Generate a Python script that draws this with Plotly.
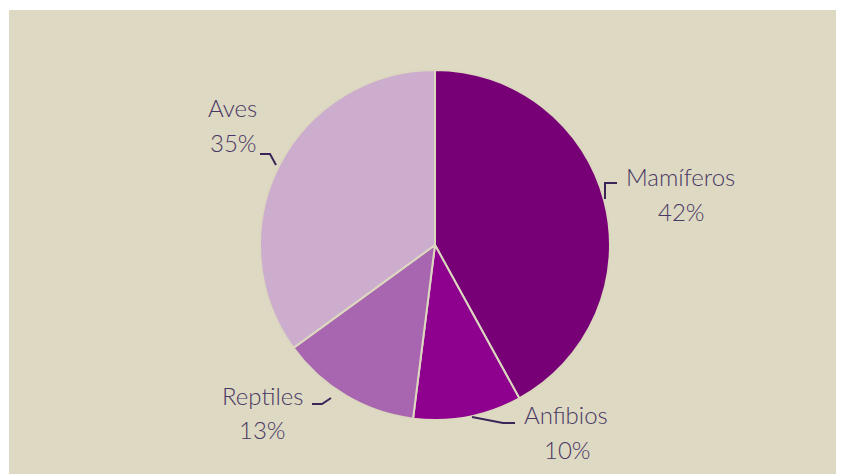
import plotly.graph_objects as go

categories = ["Mamíferos", "Anfibios", "Reptiles", "Aves"]
values = [42, 10, 13, 35]
colors = ["#770077", "#8E008E", "#A966B0", "#CDADCD"]

W, H = 846, 474
OFF = 8  # page body margin offset
bg = "#DDD9C3"
txt = "#4A3864"
font_family = "'Lato Light', 'Open Sans Light', Lato, 'Noto Sans', sans-serif"

# label layout (pixels) : name line, percent line
label_pos = {
    "Mamíferos": ((680, 176), (681, 211)),
    "Anfibios": ((566, 414), (567, 449)),
    "Reptiles": ((262, 395), (262, 429)),
    "Aves": ((232, 108), (233, 143)),
}
leaders = {
    "Mamíferos": [(617, 183), (605, 183), (605, 199)],
    "Anfibios": [(515, 423), (503, 423), (472, 417)],
    "Reptiles": [(312, 404), (322, 404), (331, 398)],
    "Aves": [(260, 154), (270, 154), (276, 165)],
}

def px(x):
    return (x - OFF) / W

def py(y):
    return 1 - (y - OFF) / H

cx, cy, r = 435, 245, 175

fig = go.Figure(go.Pie(
    labels=categories,
    values=values,
    sort=False,
    direction="clockwise",
    rotation=0,
    marker=dict(colors=colors, line=dict(color="#DCD7BF", width=2)),
    textinfo="none",
    hoverinfo="label+percent",
    showlegend=False,
    domain=dict(x=[px(cx - r), px(cx + r)], y=[py(cy + r), py(cy - r)]),
))

shapes = [
    dict(type="rect", xref="paper", yref="paper", x0=px(9), x1=px(836), y0=0, y1=py(10),
         fillcolor=bg, line=dict(width=0), layer="below"),
]
for cat in categories:
    pts = leaders[cat]
    path = "M " + " L ".join(f"{px(x)},{py(y)}" for x, y in pts)
    shapes.append(dict(type="path", xref="paper", yref="paper", path=path,
                       line=dict(color="#3A2458", width=2)))

total = sum(values)
annotations = []
for cat, v in zip(categories, values):
    (nx, ny), (qx, qy) = label_pos[cat]
    annotations.append(dict(x=px(nx), y=py(ny), xref="paper", yref="paper", text=cat,
                            showarrow=False, xanchor="center", yanchor="middle",
                            font=dict(family=font_family, size=24, color=txt)))
    annotations.append(dict(x=px(qx), y=py(qy), xref="paper", yref="paper",
                            text=f"{round(v / total * 100)}%",
                            showarrow=False, xanchor="center", yanchor="middle",
                            font=dict(family=font_family, size=24, color=txt)))

fig.update_layout(
    width=W, height=H,
    margin=dict(l=0, r=0, t=0, b=0),
    paper_bgcolor="white",
    plot_bgcolor="white",
    shapes=shapes,
    annotations=annotations,
)

fig.write_html("out.html")
